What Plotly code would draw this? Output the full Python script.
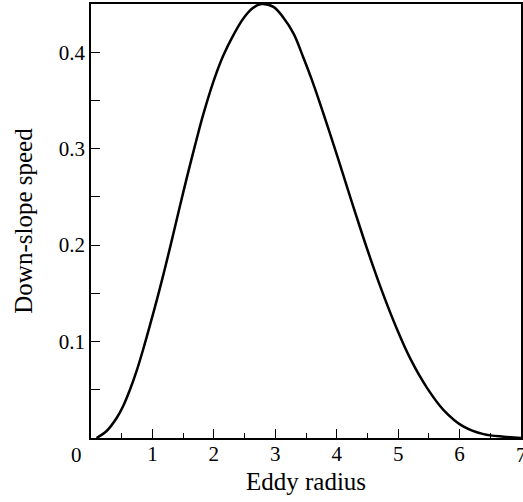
import plotly.graph_objects as go

# Curve
eddy_radius = [0.09, 0.25, 0.42, 0.53, 0.64, 0.74, 0.85, 0.96, 1.10, 1.20, 1.30, 1.45,
               1.56, 1.72, 1.83, 1.99, 2.15, 2.32, 2.48, 2.64, 2.77, 2.97, 3.13, 3.30,
               3.46, 3.62, 3.78, 3.95, 4.11, 4.30, 4.49, 4.71, 4.98, 5.20, 5.47, 5.74,
               6.06, 6.39, 6.72, 7.0]
downslope_speed = [0.0, 0.007, 0.021, 0.034, 0.051, 0.069, 0.092, 0.117, 0.150, 0.175,
                   0.201, 0.241, 0.270, 0.310, 0.336, 0.369, 0.396, 0.418, 0.435, 0.446,
                   0.45, 0.447, 0.436, 0.419, 0.394, 0.367, 0.337, 0.304, 0.272, 0.234,
                   0.197, 0.157, 0.113, 0.082, 0.052, 0.029, 0.012, 0.004, 0.0013, 0.0]

x_ticks = [1, 2, 3, 4, 5, 6]
x_tick_labels = ["1", "2", "3", "4", "5", "6"]
y_ticks = [0.1, 0.2, 0.3, 0.4]
y_tick_labels = ["0.1", "0.2", "0.3", "0.4"]
corner_labels = [(0, "0"), (7, "7")]

FONT = "Liberation Serif, Times New Roman, serif"

fig = go.Figure()
fig.add_trace(go.Scatter(
    x=eddy_radius, y=downslope_speed, mode="lines",
    line=dict(color="black", width=2.5, shape="spline", smoothing=1.0),
    showlegend=False, cliponaxis=True,
))

fig.update_layout(
    template="none",
    width=523, height=502,
    margin=dict(l=91, r=2, t=4, b=64, pad=0),
    paper_bgcolor="white", plot_bgcolor="white",
    font=dict(family=FONT, color="black", size=20),
    xaxis=dict(
        range=[0, 7], tickmode="array", tickvals=x_ticks, ticktext=x_tick_labels,
        ticks="inside", ticklen=9, tickwidth=1.2, tickcolor="black",
        minor=dict(tickmode="linear", tick0=0, dtick=0.5, ticks="inside",
                   ticklen=5, tickwidth=1.2, tickcolor="black", showgrid=False),
        showline=True, linecolor="black", linewidth=1.5, mirror=True,
        showgrid=False, zeroline=False, automargin=False,
        tickfont=dict(size=21, family=FONT), ticklabelstandoff=-4,
        title=dict(text="Eddy radius", font=dict(size=25, family=FONT), standoff=8),
    ),
    yaxis=dict(
        range=[0, 0.45], tickmode="array", tickvals=y_ticks, ticktext=y_tick_labels,
        ticks="inside", ticklen=9, tickwidth=1.2, tickcolor="black",
        minor=dict(tickmode="linear", tick0=0, dtick=0.05, ticks="inside",
                   ticklen=9, tickwidth=1.2, tickcolor="black", showgrid=False),
        showline=True, linecolor="black", linewidth=1.5, mirror=True,
        showgrid=False, zeroline=False, automargin=False,
        tickfont=dict(size=21, family=FONT),
        title=dict(text="Down-slope speed", font=dict(size=25, family=FONT), standoff=19),
    ),
    annotations=[dict(
        text=lab, xref="x", yref="y", x=xv, y=0, xanchor="center", yanchor="top",
        xshift=(-15 if xv == 0 else 0), yshift=-3, showarrow=False,
        font=dict(size=21, family=FONT),
    ) for xv, lab in corner_labels],
)

fig.write_html(
    "out.html",
    config={"displayModeBar": False},
    post_script="document.body.style.margin='0';document.body.style.overflow='hidden';",
)
